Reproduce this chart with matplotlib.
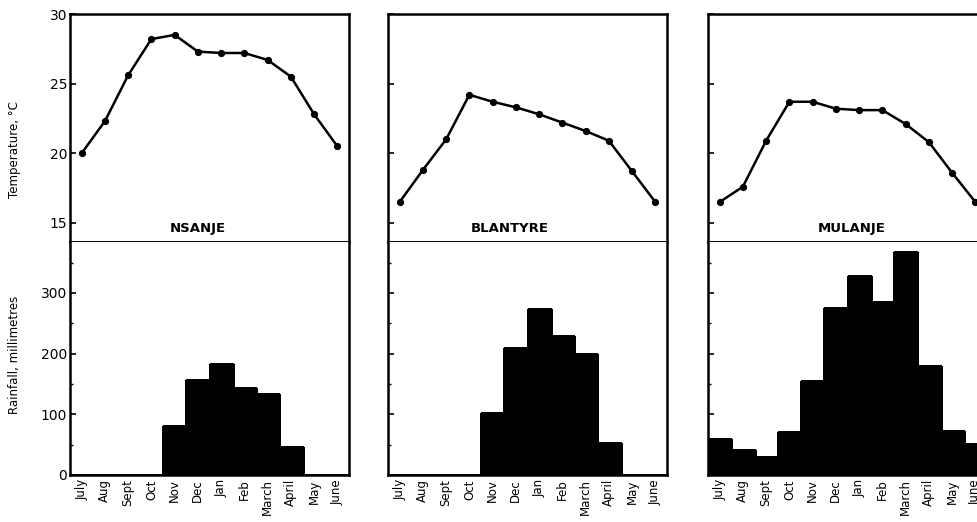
import matplotlib
matplotlib.use("Agg")
import matplotlib.pyplot as plt
from matplotlib.ticker import MultipleLocator

months = ["July", "Aug", "Sept", "Oct", "Nov", "Dec", "Jan", "Feb",
          "March", "April", "May", "June"]
stations = ["NSANJE", "BLANTYRE", "MULANJE"]

temp_nsanje = [20.0, 22.3, 25.6, 28.2, 28.5, 27.3, 27.2, 27.2, 26.7, 25.5, 22.8, 20.5]
temp_blantyre = [16.5, 18.8, 21.0, 24.2, 23.7, 23.3, 22.8, 22.2, 21.6, 20.9, 18.7, 16.5]
temp_mulanje = [16.5, 17.6, 20.9, 23.7, 23.7, 23.2, 23.1, 23.1, 22.1, 20.8, 18.6, 16.5]

rain_nsanje = [0, 0, 0, 0, 81, 157, 183, 143, 133, 46, 0, 0]
rain_blantyre = [0, 0, 0, 0, 103, 210, 273, 229, 199, 52, 0, 0]
rain_mulanje = [59, 41, 29, 71, 155, 275, 328, 285, 367, 180, 72, 51]

temps = [temp_nsanje, temp_blantyre, temp_mulanje]
rains = [rain_nsanje, rain_blantyre, rain_mulanje]

W, H = 977, 522
fig = plt.figure(figsize=(W / 100, H / 100), dpi=100)
fig.patch.set_facecolor("white")

lefts = [70, 388, 708]
pw = 279
top_y, mid_y, bot_y = 14, 242, 475
title_xf = [0.457, 0.437, 0.516]

x_c = [i + 0.5 for i in range(12)]
x_e = list(range(12))

for k in range(3):
    l = lefts[k] / W
    w = pw / W
    axt = fig.add_axes([l, 1 - mid_y / H, w, (mid_y - top_y) / H])
    axb = fig.add_axes([l, 1 - bot_y / H, w, (bot_y - mid_y) / H])

    # temperature
    axt.plot(x_c, temps[k], color="black", lw=1.8, marker="o", ms=4.2,
             markerfacecolor="black", markeredgecolor="black")
    axt.set_xlim(0, 12)
    axt.set_ylim(13.63, 30)
    axt.set_yticks([15, 20, 25, 30])
    axt.set_xticks([])
    axt.tick_params(axis="y", direction="in", length=4, width=1.2,
                    labelsize=10, pad=2)
    axt.text(title_xf[k], 0.061, stations[k], transform=axt.transAxes,
             ha="center", va="center", fontsize=9.5, fontweight="bold")

    # rainfall
    axb.bar(x_e, rains[k], width=1.0, align="edge", color="black",
            edgecolor="black", linewidth=1.0, antialiased=False)
    axb.set_xlim(0, 12)
    axb.set_ylim(0, 384)
    axb.set_yticks([0, 100, 200, 300])
    axb.yaxis.set_minor_locator(MultipleLocator(50))
    axb.tick_params(axis="y", which="major", direction="in", length=4,
                    width=1.2, labelsize=10, pad=2)
    axb.tick_params(axis="y", which="minor", direction="in", length=2.5,
                    width=1.0)
    axb.set_xticks(x_c)
    axb.set_xticklabels(months, rotation=90, fontsize=8.5)
    axb.tick_params(axis="x", length=0, pad=3)

    if k > 0:
        axt.set_yticklabels([])
        axb.set_yticklabels([])

    for ax in (axt, axb):
        for s in ax.spines.values():
            s.set_linewidth(1.8)
            s.set_color("black")
    axt.spines["bottom"].set_linewidth(1.4)
    axb.spines["top"].set_visible(False)

fig.text(15 / W, 1 - 150 / H, "Temperature, °C", rotation=90,
         ha="center", va="center", fontsize=8.5)
fig.text(15 / W, 1 - 355 / H, "Rainfall, millimetres", rotation=90,
         ha="center", va="center", fontsize=8.5)

fig.savefig("out.png", dpi=100, facecolor="white")
